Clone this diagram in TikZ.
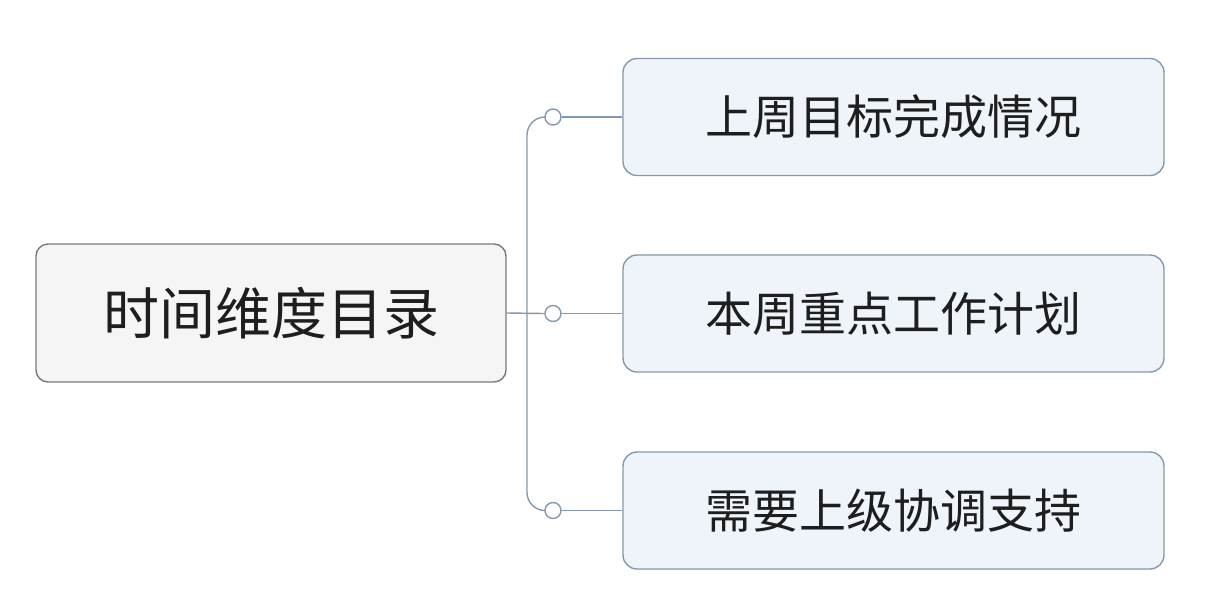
\documentclass[tikz,border=0pt]{standalone}
\usepackage{fontspec}
\setmainfont{Noto Sans CJK SC}
\definecolor{ln}{HTML}{8499AE}
\definecolor{cb}{HTML}{EEF4FA}
\definecolor{rb}{HTML}{F5F5F5}
\definecolor{rd}{HTML}{7A7A7A}
\definecolor{tx}{HTML}{1E1E1E}
\begin{document}
\begin{tikzpicture}[x=1pt,y=-1pt,
  rootbox/.style={draw=rd,fill=rb,rounded corners=12pt,line width=1.4pt,minimum width=470pt,minimum height=138pt,font=\fontsize{56}{60}\selectfont,text=tx},
  childbox/.style={draw=ln,fill=cb,rounded corners=14pt,line width=1.4pt,minimum width=541pt,minimum height=117pt,font=\fontsize{47}{52}\selectfont,text=tx},
  conn/.style={draw=ln,line width=1.4pt},
  dot/.style={circle,draw=ln,fill=white,line width=1.4pt,minimum size=16pt,inner sep=0pt}]
\useasboundingbox (0,0) rectangle (1218,600);
\node[rootbox] (r) at (271,313) {时间维度目录};
\node[childbox] (a) at (893.5,117) {上周目标完成情况};
\node[childbox] (b) at (893.5,313.5) {本周重点工作计划};
\node[childbox] (c) at (893.5,510.5) {需要上级协调支持};
\node[dot] (da) at (553,117) {};
\node[dot] (db) at (553,313.5) {};
\node[dot] (dc) at (553,510.5) {};
\coordinate (t) at (527,313.5);
\draw[conn] (r.east) -- (db.west);
\draw[conn,rounded corners=18pt] (da.west) -| (t) |- (dc.west);
\draw[conn] (da.east) -- (a.west);
\draw[conn] (db.east) -- (b.west);
\draw[conn] (dc.east) -- (c.west);
\end{tikzpicture}
\end{document}
